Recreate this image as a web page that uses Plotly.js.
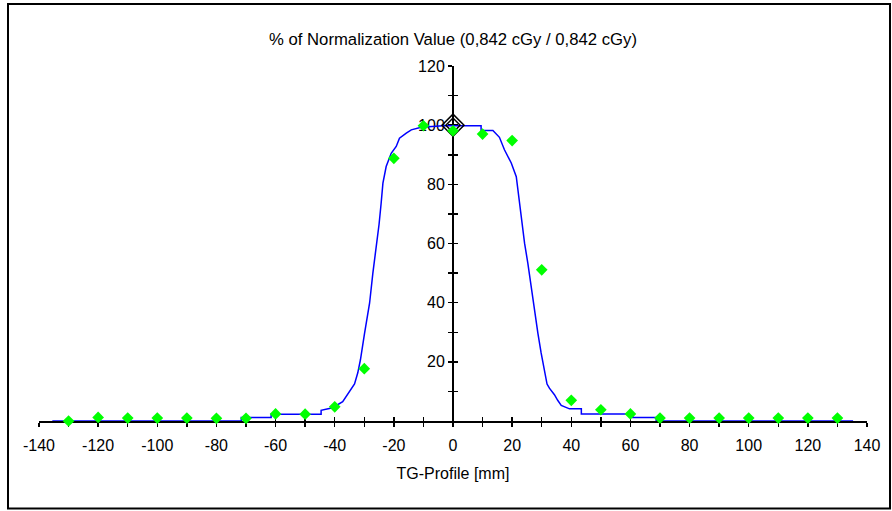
<!DOCTYPE html>
<html>
<head>
<meta charset="utf-8">
<script src="https://cdn.plot.ly/plotly-3.0.1.min.js"></script>
<style>
  html, body { margin: 0; padding: 0; background: #ffffff; }
  #chart { width: 892px; height: 511px; }
</style>
</head>
<body>
<div id="chart"></div>
<script>
// ---- Data ----
// Calculated profile (blue line): position [mm], % of normalization value
const profileX = [-135.5, -71.6, -71.6, -61.5, -61.5, -44.6, -44.6, -40.7, -37.3, -35.0, -33.3, -32.2, -31.3,
  -29.9, -28.2, -27.1, -26.0, -25.0, -24.3, -23.7, -22.6, -20.9, -19.2, -18.1, -15.8, -14.1, -10.8, -3.4,
  9.5, 9.5, 13.5, 15.7, 17.4, 19.7, 21.4, 22.5, 23.3, 24.2, 25.3, 26.4, 27.6, 28.7, 29.8, 30.9, 31.8, 32.6,
  34.3, 35.4, 36.6, 39.4, 43.4, 43.4, 60.8, 60.8, 68.7, 68.7, 135.3];
const profileY = [0, 0, 1.2, 1.2, 2.3, 2.3, 3.6, 4.5, 6.5, 9.7, 12.5, 16.3, 20.7,
  29.7, 39.9, 50.0, 57.9, 66.5, 73.6, 80.4, 86.0, 90.5, 92.8, 95.6, 97.3, 98.4, 99.3, 99.8,
  99.8, 98.2, 98.2, 95.9, 91.7, 87.2, 82.6, 73.6, 68.0, 60.1, 53.4, 45.5, 37.6, 29.7, 23.0, 17.3, 12.5, 11.1,
  8.9, 7.0, 5.3, 4.1, 4.1, 2.4, 2.4, 1.2, 1.2, 0, 0];

// Measured points (green diamonds)
const measX = [-130, -120, -110, -100, -90, -80, -70, -60, -50, -40, -30, -20, -10, 0, 10, 20, 30, 40, 50, 60,
  70, 80, 90, 100, 110, 120, 130];
const measY = [0, 1.2, 1.0, 1.0, 1.0, 0.9, 0.9, 2.4, 2.3, 4.8, 17.7, 88.8, 99.8, 98.1, 97.0, 94.8, 51.1, 7.0, 3.8, 2.4,
  1.0, 1.0, 1.0, 1.0, 1.0, 1.0, 1.0];

// Normalization point
const normX = [0];
const normY = [100];

// Axis ticks
const xTickVals = [-140, -130, -120, -110, -100, -90, -80, -70, -60, -50, -40, -30, -20, -10, 0,
  10, 20, 30, 40, 50, 60, 70, 80, 90, 100, 110, 120, 130, 140];
const xTickText = ['-140', '', '-120', '', '-100', '', '-80', '', '-60', '', '-40', '', '-20', '', '0',
  '', '20', '', '40', '', '60', '', '80', '', '100', '', '120', '', '140'];
const yTickVals = [10, 20, 30, 40, 50, 60, 70, 80, 90, 100, 110, 120];
const yTickText = ['', '20', '', '40', '', '60', '', '80', '', '100', '', '120'];

const titleText = '% of Normalization Value (0,842 cGy / 0,842 cGy)';
const xTitleText = 'TG-Profile [mm]';

// ---- Traces ----
const FONT = 'Arial, "Liberation Sans", sans-serif';

const traces = [
  {
    x: profileX, y: profileY, type: 'scatter', mode: 'lines',
    line: { color: '#0000ff', width: 1.5, shape: 'linear' },
    cliponaxis: false, hoverinfo: 'skip', showlegend: false
  },
  {
    x: normX, y: normY, type: 'scatter', mode: 'markers',
    marker: { symbol: 'diamond-open', size: 17, color: '#000000', line: { width: 1.5, color: '#000000' } },
    cliponaxis: false, hoverinfo: 'skip', showlegend: false
  },
  {
    x: normX, y: normY, type: 'scatter', mode: 'markers',
    marker: { symbol: 'diamond-open', size: 11, color: '#000000', line: { width: 1.5, color: '#000000' } },
    cliponaxis: false, hoverinfo: 'skip', showlegend: false
  },
  {
    x: measX, y: measY, type: 'scatter', mode: 'markers',
    marker: { symbol: 'diamond', size: 9, color: '#00ff00', line: { width: 0 } },
    cliponaxis: false, hoverinfo: 'skip', showlegend: false
  },
  {
    // helper trace so the overlay axes (ticks on the other side) are drawn
    x: [null], y: [null], xaxis: 'x2', yaxis: 'y2', type: 'scatter', mode: 'markers',
    hoverinfo: 'skip', showlegend: false
  }
];

const layout = {
  width: 892, height: 511,
  paper_bgcolor: '#ffffff', plot_bgcolor: '#ffffff',
  margin: { l: 39, r: 25, t: 66, b: 90, pad: 0 },
  font: { family: FONT, size: 16, color: '#000000' },
  showlegend: false,
  title: {
    text: titleText,
    font: { family: FONT, size: 16.7, color: '#000000' },
    x: 0.5, xref: 'paper', xanchor: 'center',
    y: 1 - 39 / 511, yref: 'container', yanchor: 'middle'
  },
  xaxis: {
    range: [-140, 140], fixedrange: true,
    tickmode: 'array', tickvals: xTickVals, ticktext: xTickText,
    ticks: 'outside', ticklen: 4, tickwidth: 1.5, tickcolor: '#000000',
    ticklabelstandoff: 5,
    showline: true, linecolor: '#000000', linewidth: 2,
    showgrid: false, zeroline: false, layer: 'below traces',
    tickfont: { family: FONT, size: 16, color: '#000000' },
    title: { text: xTitleText, font: { family: FONT, size: 16, color: '#000000' }, standoff: 15 },
    anchor: 'y', automargin: false
  },
  yaxis: {
    range: [0, 120], fixedrange: true,
    anchor: 'free', position: 0.5, side: 'left',
    tickmode: 'array', tickvals: yTickVals, ticktext: yTickText,
    ticks: 'outside', ticklen: 4, tickwidth: 1.5, tickcolor: '#000000',
    showline: true, linecolor: '#000000', linewidth: 2,
    showgrid: false, zeroline: false, layer: 'below traces',
    tickfont: { family: FONT, size: 16, color: '#000000' },
    automargin: false
  },
  xaxis2: {
    overlaying: 'x', anchor: 'y2', range: [-140, 140], fixedrange: true,
    tickmode: 'array', tickvals: xTickVals,
    ticks: 'inside', ticklen: 4, tickwidth: 1.5, tickcolor: '#000000',
    showticklabels: false, showline: false, showgrid: false, zeroline: false, layer: 'below traces'
  },
  yaxis2: {
    overlaying: 'y', anchor: 'free', position: 0.5, side: 'left', range: [0, 120], fixedrange: true,
    tickmode: 'array', tickvals: yTickVals,
    ticks: 'inside', ticklen: 4, tickwidth: 1.5, tickcolor: '#000000',
    showticklabels: false, showline: false, showgrid: false, zeroline: false, layer: 'below traces'
  },
  shapes: [
    {
      type: 'rect', xref: 'paper', yref: 'paper',
      x0: (8 - 39) / 828, x1: (890 - 39) / 828,
      y0: (421 - 508.5) / 355, y1: (421 - 4) / 355,
      line: { color: '#000000', width: 2 }, fillcolor: 'rgba(0,0,0,0)', layer: 'below'
    }
  ]
};

Plotly.newPlot('chart', traces, layout, { displayModeBar: false, staticPlot: true });
</script>
</body>
</html>
